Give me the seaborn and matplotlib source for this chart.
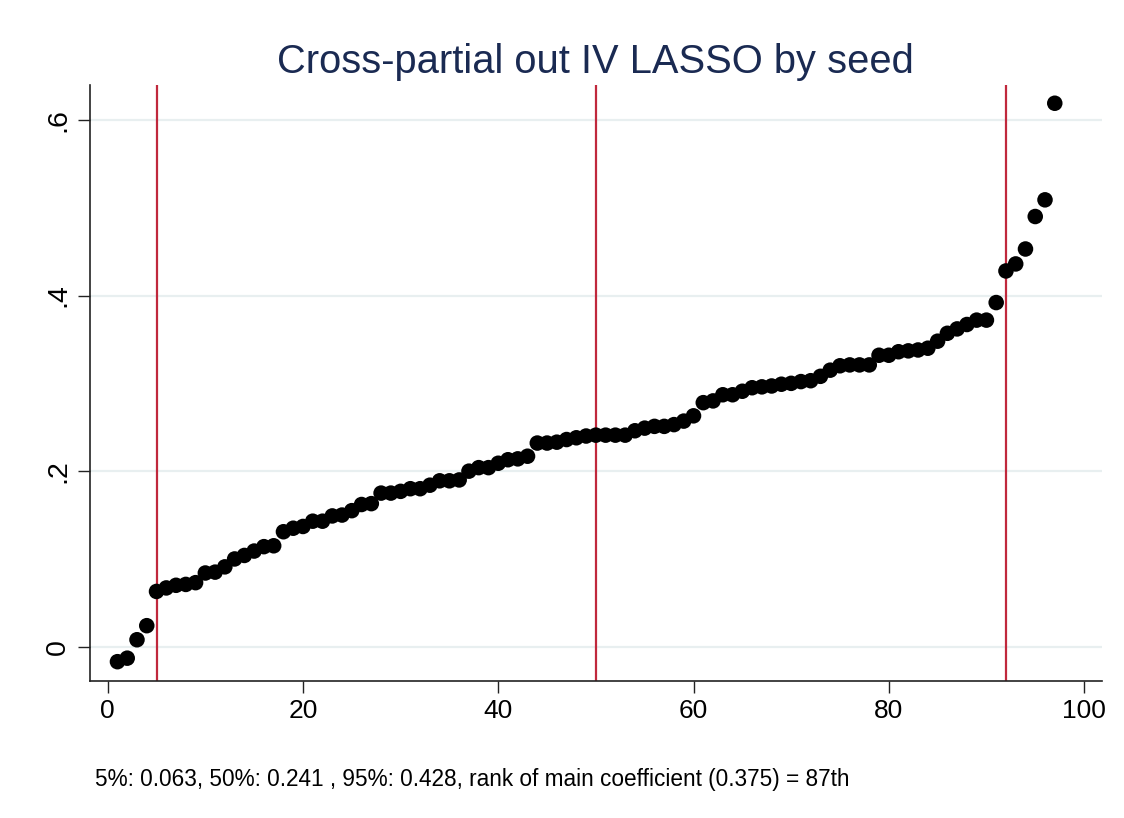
import numpy as np
import pandas as pd
import matplotlib
matplotlib.use("Agg")
import matplotlib.pyplot as plt
import seaborn as sns

# ---- data ----
coef = [-0.017, -0.013, 0.008, 0.024, 0.063, 0.067, 0.070, 0.071, 0.073, 0.084,
        0.085, 0.091, 0.100, 0.104, 0.109, 0.114, 0.115, 0.131, 0.135, 0.137,
        0.143, 0.143, 0.149, 0.150, 0.155, 0.162, 0.163, 0.175, 0.175, 0.177,
        0.180, 0.180, 0.184, 0.189, 0.189, 0.190, 0.200, 0.204, 0.204, 0.209,
        0.213, 0.214, 0.217, 0.232, 0.232, 0.233, 0.236, 0.238, 0.240, 0.241,
        0.241, 0.241, 0.241, 0.246, 0.249, 0.251, 0.251, 0.253, 0.257, 0.263,
        0.278, 0.280, 0.287, 0.287, 0.291, 0.295, 0.296, 0.297, 0.299, 0.300,
        0.302, 0.303, 0.308, 0.315, 0.320, 0.321, 0.321, 0.321, 0.332, 0.332,
        0.336, 0.337, 0.338, 0.340, 0.348, 0.357, 0.362, 0.367, 0.372, 0.372,
        0.392, 0.428, 0.436, 0.453, 0.490, 0.509, 0.619]
rank = list(range(1, len(coef) + 1))
vlines = [5, 50, 92]
xticks = [0, 20, 40, 60, 80, 100]
yticks = [0, 0.2, 0.4, 0.6]
ytick_labels = ["0", ".2", ".4", ".6"]
title = "Cross-partial out IV LASSO by seed"
note = "5%: 0.063, 50%: 0.241 , 95%: 0.428, rank of main coefficient (0.375) = 87th"

df = pd.DataFrame({"rank": rank, "coef": coef})

sns.set_theme(style="white")
plt.rcParams["font.family"] = ["Liberation Sans", "DejaVu Sans"]

fig = plt.figure(figsize=(11.24, 8.18), dpi=100)
ax = fig.add_axes([0.0801, 0.1678, 0.9000, 0.7282])

for v in vlines:
    ax.axvline(v, color="#c0283c", lw=1.6, zorder=2)

sns.scatterplot(data=df, x="rank", y="coef", ax=ax, color="black",
                s=125, edgecolor="none", zorder=3)

ax.set_xlim(-1.81, 101.8)
ax.set_ylim(-0.0387, 0.6397)
ax.set_xticks(xticks)
ax.set_yticks(yticks)
ax.set_yticklabels(ytick_labels, rotation=90, va="center")
ax.tick_params(axis="both", direction="out", length=8.5, width=1.0,
               color="#222222", labelcolor="black", pad=5,
               bottom=True, left=True)
ax.tick_params(axis="x", labelsize=19)
ax.tick_params(axis="y", labelsize=20.5)
ax.grid(axis="y", color="#e8eff0", lw=1.6)
ax.set_axisbelow(True)
ax.set_xlabel("")
ax.set_ylabel("")
for s in ["top", "right"]:
    ax.spines[s].set_visible(False)
for s in ["left", "bottom"]:
    ax.spines[s].set_color("#222222")
    ax.spines[s].set_linewidth(1.2)

ax.set_title(title, fontsize=28.7, color="#1a2a52", pad=9)
fig.text(95 / 1124, (818 - 786) / 818, note, fontsize=16.3, color="black",
         ha="left", va="baseline")

fig.savefig("out.png", dpi=100)
